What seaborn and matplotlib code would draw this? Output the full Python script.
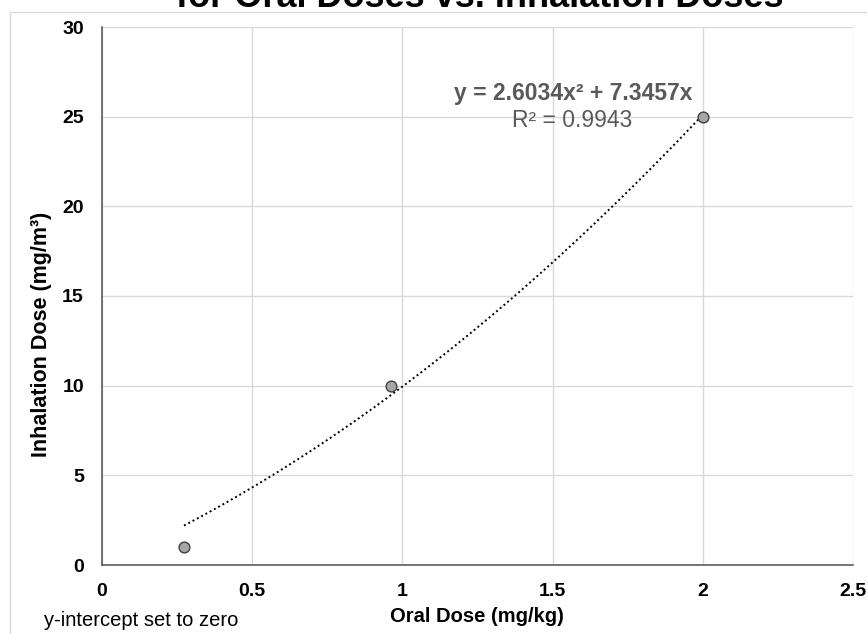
import numpy as np
import pandas as pd
import matplotlib.pyplot as plt
import seaborn as sns
from matplotlib.lines import Line2D

# values
oral_dose = [0.273, 0.962, 2.0]
inhal_dose = [1.0, 10.0, 25.0]
coef_a, coef_b = 2.6034, 7.3457  # shown trendline, intercept forced to 0
r_squared = 0.9943
x_ticks = [0, 0.5, 1, 1.5, 2, 2.5]
y_ticks = [0, 5, 10, 15, 20, 25, 30]

sns.set_theme(style="whitegrid")
plt.rcParams["font.family"] = ["Liberation Sans", "DejaVu Sans"]

W, H = 867, 634
fig = plt.figure(figsize=(W / 100, H / 100), dpi=100)
ax = fig.add_axes([102 / W, 1 - 565 / H, (853 - 102) / W, (565 - 27) / H])

df = pd.DataFrame({"oral": oral_dose, "inhal": inhal_dose})
trend_x = np.linspace(min(oral_dose), max(oral_dose), 100)
trend = pd.DataFrame({"oral": trend_x, "inhal": coef_a * trend_x ** 2 + coef_b * trend_x})

sns.lineplot(data=trend, x="oral", y="inhal", ax=ax, color="black",
             linestyle=(0, (1, 1.5)), linewidth=1.4, zorder=2)
sns.scatterplot(data=df, x="oral", y="inhal", ax=ax, s=60, color="#a6a6a6",
                edgecolor="#404040", linewidth=1, zorder=3)

ax.set_xlim(0, 2.5)
ax.set_ylim(0, 30)
ax.set_xticks(x_ticks)
ax.set_xticklabels([f"{t:g}" for t in x_ticks])
ax.set_yticks(y_ticks)
ax.tick_params(axis="both", length=0, labelsize=14)
ax.tick_params(axis="x", pad=13)
ax.tick_params(axis="y", pad=13)
for lab in ax.get_xticklabels() + ax.get_yticklabels():
    lab.set_fontweight("bold")
    lab.set_color("black")

ax.grid(True, color="#d9d9d9", linewidth=1)
ax.set_facecolor("white")
for side in ["top", "right"]:
    ax.spines[side].set_visible(False)
for side in ["left", "bottom"]:
    ax.spines[side].set_color("#505050")
    ax.spines[side].set_linewidth(1.1)

ax.set_xlabel("")
ax.set_ylabel("")
fig.text(477 / W, 1 - 617 / H, "Oral Dose (mg/kg)", ha="center", va="center",
         fontsize=14.5, fontweight="bold", color="black")
fig.text(42 / W, 1 - 334 / H, "Inhalation Dose (mg/m³)", ha="center", va="center",
         rotation=90, fontsize=15.5, fontweight="bold", color="black")

ax.text(1.965, 26.3, f"y = {coef_a}x² + {coef_b}x", ha="right", va="center",
        fontsize=16.5, fontweight="bold", color="#595959")
ax.text(1.565, 24.8, f"R² = {r_squared}", ha="center", va="center",
        fontsize=16.5, color="#595959")

fig.text(44 / W, 1 - 620 / H, "y-intercept set to zero", ha="left", va="center",
         fontsize=14.5, color="black")

# title, mostly cut off by the top edge
fig.text(480 / W, 1 - 7 / H, "for Oral Doses vs. Inhalation Doses", ha="center",
         va="baseline", fontsize=26, fontweight="bold", color="black")

# chart-area border
fig.add_artist(Line2D([10 / W, 1], [1 - 12 / H, 1 - 12 / H], color="#d9d9d9", linewidth=1))
fig.add_artist(Line2D([10 / W, 10 / W], [0, 1 - 12 / H], color="#d9d9d9", linewidth=1))

fig.savefig("out.png", dpi=100)
